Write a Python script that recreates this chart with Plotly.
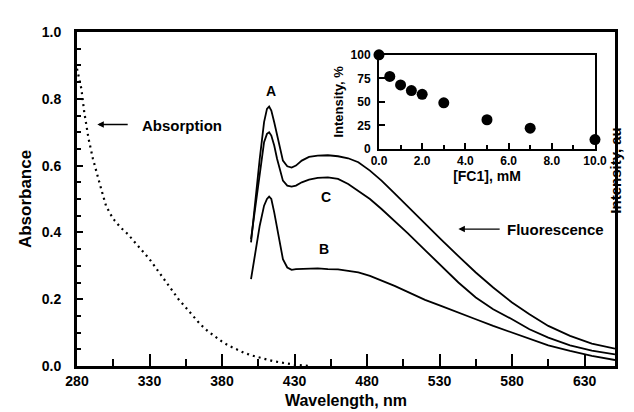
import plotly.graph_objects as go

# ---------------- data ----------------
abs_wl = [280, 283, 285, 288, 291, 294, 297, 300, 303, 306, 310, 315, 320, 325, 330,
          335, 340, 345, 350, 355, 360, 365, 370, 375, 380, 385, 390, 395, 400, 405,
          410, 415, 420, 425, 430, 435, 440]
abs_val = [0.89, 0.83, 0.76, 0.68, 0.62, 0.57, 0.525, 0.48, 0.455, 0.435, 0.415, 0.395,
           0.37, 0.345, 0.32, 0.29, 0.26, 0.23, 0.20, 0.175, 0.15, 0.125, 0.105, 0.088,
           0.073, 0.06, 0.049, 0.04, 0.032, 0.026, 0.02, 0.015, 0.011, 0.007, 0.004,
           0.002, 0.0]

fl_wl = [400, 403, 406, 409, 411, 412.5, 414, 416, 418, 420, 422, 425, 428, 431, 435,
         440, 446, 453, 460, 467, 474, 482, 490, 499, 508, 520, 531, 543, 555, 567,
         580, 592, 605, 620, 635, 651]
fl_A = [0.37, 0.50, 0.62, 0.73, 0.77, 0.777, 0.765, 0.73, 0.69, 0.65, 0.615, 0.598,
        0.594, 0.60, 0.615, 0.626, 0.630, 0.631, 0.628, 0.622, 0.610, 0.585, 0.555,
        0.517, 0.478, 0.425, 0.379, 0.329, 0.28, 0.235, 0.19, 0.155, 0.12, 0.09,
        0.067, 0.052]
fl_C = [0.38, 0.48, 0.58, 0.67, 0.695, 0.70, 0.69, 0.66, 0.62, 0.585, 0.555, 0.54,
        0.537, 0.54, 0.55, 0.558, 0.563, 0.565, 0.56, 0.545, 0.525, 0.50, 0.47,
        0.435, 0.398, 0.347, 0.30, 0.25, 0.205, 0.17, 0.14, 0.11, 0.085, 0.062,
        0.046, 0.035]
fl_B = [0.26, 0.34, 0.42, 0.48, 0.50, 0.507, 0.50, 0.46, 0.41, 0.36, 0.32, 0.295,
        0.288, 0.29, 0.291, 0.292, 0.292, 0.29, 0.289, 0.285, 0.28, 0.27, 0.257,
        0.24, 0.222, 0.198, 0.18, 0.161, 0.14, 0.12, 0.10, 0.08, 0.062, 0.045,
        0.03, 0.018]

fc1_mM = [0.0, 0.5, 1.0, 1.5, 2.0, 3.0, 5.0, 7.0, 10.0]
intensity_pct = [100, 77, 68, 62, 58, 49, 31, 22, 10]

x_ticks = [280, 330, 380, 430, 480, 530, 580, 630]
inset_x_ticks = [0, 2, 4, 6, 8, 10]
inset_y_ticks = [0, 25, 50, 75, 100]

# ---------------- figure ----------------
FONT = "Liberation Sans, Arial, sans-serif"
BLACK = "#000000"

fig = go.Figure()

fig.add_trace(go.Scatter(x=abs_wl, y=abs_val, mode="lines",
                         line=dict(color=BLACK, width=2.2, dash="2px,4px"),
                         showlegend=False, hoverinfo="skip"))
for ys in (fl_A, fl_C, fl_B):
    fig.add_trace(go.Scatter(x=fl_wl, y=ys, mode="lines",
                             line=dict(color=BLACK, width=1.8),
                             showlegend=False, hoverinfo="skip"))

fig.add_trace(go.Scatter(x=fc1_mM, y=intensity_pct, mode="markers",
                         marker=dict(color=BLACK, size=11),
                         xaxis="x2", yaxis="y2", cliponaxis=False,
                         showlegend=False, hoverinfo="skip"))

axis_common = dict(showline=True, linecolor=BLACK, mirror=True, showgrid=False,
                   zeroline=False, ticks="inside", tickcolor=BLACK)

fig.update_layout(
    width=634, height=412,
    margin=dict(l=69, r=27, t=24, b=51),
    paper_bgcolor="white", plot_bgcolor="white",
    font=dict(family=FONT, color=BLACK),
    xaxis=dict(**axis_common, range=[280, 651], tickmode="array", tickvals=x_ticks,
               ticklen=12, tickwidth=2, linewidth=3,
               minor=dict(ticks="inside", ticklen=7, tickwidth=2, tickcolor=BLACK,
                          dtick=25, tick0=280),
               tickfont=dict(size=14, weight="bold"),
               title=dict(text="Wavelength, nm", font=dict(size=16, weight="bold"),
                          standoff=8)),
    yaxis=dict(**axis_common, range=[0, 1.0], dtick=0.2, tick0=0, tickformat=".1f",
               ticklen=6, tickwidth=2, linewidth=3, ticklabelstandoff=10,
               minor=dict(ticks="inside", ticklen=4, tickwidth=1.5, tickcolor=BLACK,
                          dtick=0.05, tick0=0),
               tickfont=dict(size=14, weight="bold"),
               title=dict(text="Absorbance", font=dict(size=17, weight="bold"),
                          standoff=6)),
    xaxis2=dict(**axis_common, domain=[0.5613, 0.9628], anchor="y2", range=[0, 10],
                tickmode="array", tickvals=inset_x_ticks, tickformat=".1f",
                ticklen=6, tickwidth=2, linewidth=2,
                minor=dict(ticks="inside", ticklen=4, tickwidth=1.5, tickcolor=BLACK,
                           dtick=1, tick0=0),
                tickfont=dict(size=12, weight="bold"),
                title=dict(text="[FC1], mM", font=dict(size=14, weight="bold"),
                           standoff=4)),
    yaxis2=dict(**axis_common, domain=[0.6499, 0.9318], anchor="x2", range=[0, 100],
                tickmode="array", tickvals=inset_y_ticks,
                ticklen=6, tickwidth=2, linewidth=2, ticklabelstandoff=4,
                tickfont=dict(size=12, weight="bold"),
                title=dict(text="Intensity, %", font=dict(size=13, weight="bold"),
                           standoff=4)),
)

lab_font = dict(size=14, weight="bold", color=BLACK, family=FONT)
for txt, xv, yv in (("A", 414, 0.824), ("C", 452, 0.507), ("B", 450.6, 0.349)):
    fig.add_annotation(x=xv, y=yv, xref="x", yref="y", text=txt, showarrow=False,
                       font=lab_font)

fig.add_annotation(x=352.7, y=0.72, xref="x", yref="y", text="Absorption",
                   showarrow=False, font=dict(size=15, weight="bold", family=FONT))
fig.add_annotation(x=294, y=0.723, ax=316, ay=0.723, xref="x", yref="y",
                   axref="x", ayref="y", text="", showarrow=True, arrowhead=2,
                   arrowsize=1, arrowwidth=1.3, arrowcolor=BLACK)

fig.add_annotation(x=610, y=0.41, xref="x", yref="y", text="Fluorescence",
                   showarrow=False, font=dict(size=15, weight="bold", family=FONT))
fig.add_annotation(x=543, y=0.41, ax=572.5, ay=0.41, xref="x", yref="y",
                   axref="x", ayref="y", text="", showarrow=True, arrowhead=2,
                   arrowsize=1, arrowwidth=1.3, arrowcolor=BLACK)

fig.add_annotation(x=1.0215, y=0.585, xref="paper", yref="paper",
                   text="Intensity, au", textangle=-90, showarrow=False,
                   font=dict(size=15, weight="bold", family=FONT))

fig.write_html("out.html")
